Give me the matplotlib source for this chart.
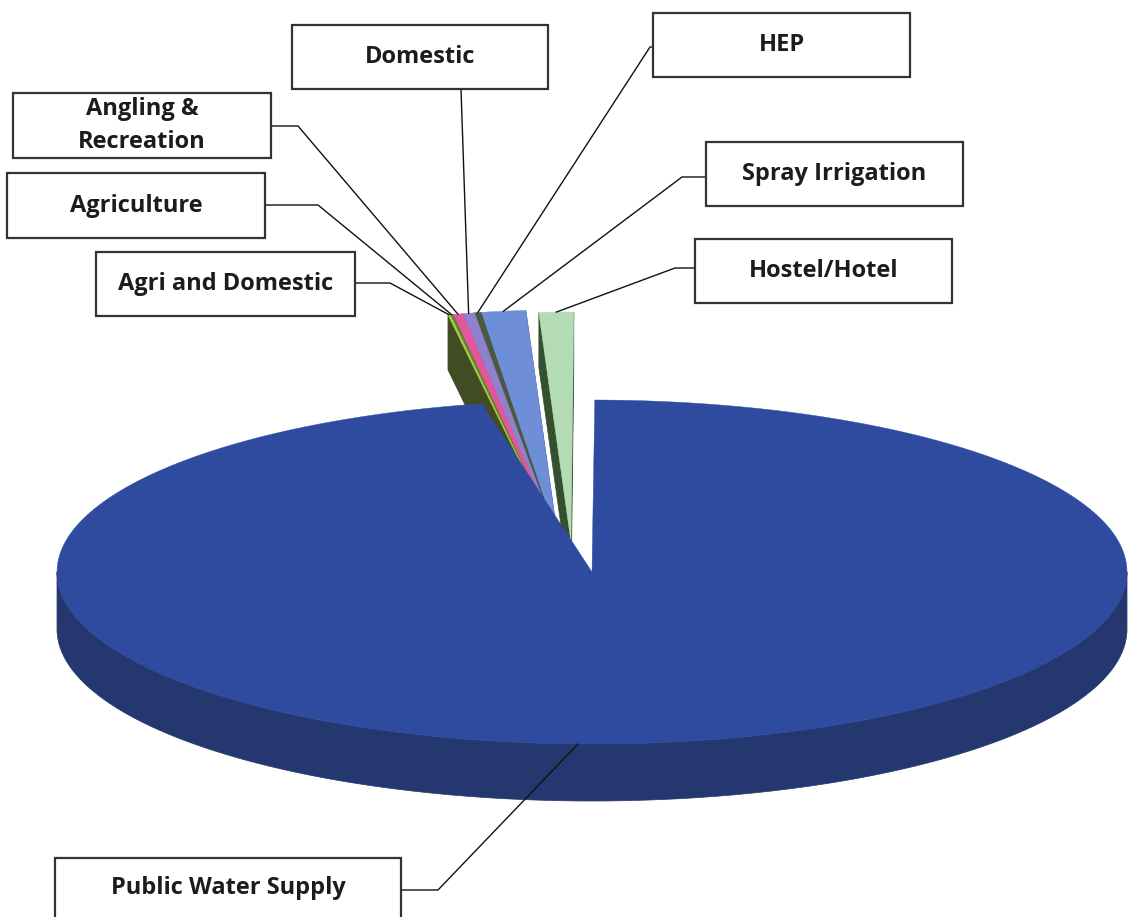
import numpy as np
import matplotlib
matplotlib.use("Agg")
import matplotlib.pyplot as plt
from matplotlib.patches import Polygon, Rectangle

# ---------------- data ----------------
categories = ["Hostel/Hotel", "Spray Irrigation", "HEP", "Domestic",
              "Angling &\nRecreation", "Agriculture", "Agri and Domestic",
              "Public Water Supply"]
values = [1.04, 1.34, 0.20, 0.35, 0.30, 0.08, 0.07, 96.62]

top_colors = ["#B3DCB5", "#6E8FD7", "#4B5A3E", "#8F82CC", "#E2579B",
              "#5F8030", "#A9CF40", "#2F4B9F"]
wall_colors = ["#34502F", "#3E5388", "#34402A", "#4F4B78", "#7A3657",
               "#3D4F22", "#414C24", "#25376F"]

# ---------------- layout ----------------
W, H = 1128, 917
cx, cy = 592, 572          # pie centre (pixels)
rx, ry = 535, 172          # ellipse radii
depth = 57                 # pie thickness
start_angle = 89.7
explode_center = [(571, 542), (558, 540), (558, 540), (558, 540),
                  (558, 540), (558, 540), (558, 540), (cx, cy)]
explode_ry = [230, 230, 230, 230, 230, 230, 230, ry]
explode_depth = 55

boxes = {
    "Hostel/Hotel": (695, 239, 952, 303),
    "Spray Irrigation": (706, 142, 963, 206),
    "HEP": (653, 13, 910, 77),
    "Domestic": (292, 25, 548, 89),
    "Angling &\nRecreation": (13, 93, 271, 158),
    "Agriculture": (7, 173, 265, 238),
    "Agri and Domestic": (96, 252, 355, 316),
    "Public Water Supply": (55, 858, 401, 922),
}
leaders = {
    "Hostel/Hotel": [(695, 268), (675, 268)],
    "Spray Irrigation": [(706, 177), (682, 177)],
    "HEP": [(653, 47), (650, 47)],
    "Domestic": [(461, 89)],
    "Angling &\nRecreation": [(271, 126), (298, 126)],
    "Agriculture": [(265, 205), (318, 205)],
    "Agri and Domestic": [(355, 283), (390, 283)],
    "Public Water Supply": [(401, 890), (438, 890)],
}
pws_anchor_angle = 268.5

plt.rcParams["font.family"] = ["Open Sans", "DejaVu Sans"]

fig = plt.figure(figsize=(W / 100, H / 100), dpi=100)
ax = fig.add_axes([0, 0, 1, 1])
ax.set_xlim(0, W)
ax.set_ylim(H, 0)
ax.axis("off")


def rim(c, r_x, r_y, ang):
    t = np.radians(ang)
    return np.array([c[0] + r_x * np.cos(t), c[1] - r_y * np.sin(t)])


def arc(c, r_x, r_y, a0, a1, n=300):
    t = np.radians(np.linspace(a0, a1, n))
    return np.column_stack([c[0] + r_x * np.cos(t), c[1] - r_y * np.sin(t)])


tot = sum(values)
spans = [v / tot * 360 for v in values]
edges = [start_angle]
for s in spans:
    edges.append(edges[-1] + s)

# ----- exploded slices (behind) -----
groups = [[0], [1, 2, 3, 4, 5, 6]]
for g in groups:
    for i in g:
        c = explode_center[i]
        r_y = explode_ry[i]
        for a in (edges[i], edges[i + 1]):
            p = rim(c, rx, r_y, a)
            quad = [c, p, (p[0], p[1] + explode_depth),
                    (c[0], c[1] + explode_depth)]
            ax.add_patch(Polygon(quad, closed=True, fc=wall_colors[i],
                                 ec=wall_colors[i], lw=0.5, zorder=2))
    for i in g:
        c = explode_center[i]
        r_y = explode_ry[i]
        pts = np.vstack([[c], arc(c, rx, r_y, edges[i], edges[i + 1], 40)])
        ax.add_patch(Polygon(pts, closed=True, fc=top_colors[i],
                             ec=top_colors[i], lw=0.3, zorder=3))

# ----- main slice -----
i = 7
a0, a1 = edges[i], edges[i + 1]
top_arc = arc((cx, cy), rx, ry, 180, 360)
bot_arc = top_arc.copy()
bot_arc[:, 1] += depth
side = np.vstack([top_arc, bot_arc[::-1]])
ax.add_patch(Polygon(side, closed=True, fc=wall_colors[i], ec=wall_colors[i],
                     lw=0.5, zorder=4))
pts = np.vstack([[(cx, cy)], arc((cx, cy), rx, ry, a0, a1, 600)])
ax.add_patch(Polygon(pts, closed=True, fc=top_colors[i], ec=top_colors[i],
                     lw=0.3, zorder=5))

# ----- labels and leaders -----
for i, name in enumerate(categories):
    x0, y0, x1, y1 = boxes[name]
    ax.add_patch(Rectangle((x0, y0), x1 - x0, y1 - y0, fc="white",
                           ec="#333333", lw=1.6, zorder=7))
    ax.text((x0 + x1) / 2, (y0 + y1) / 2 if i < 7 else 888, name,
            ha="center", va="center", fontsize=17, fontweight="bold",
            color="#1c1c1c", linespacing=1.45, zorder=8)
    if i < 7:
        mid = (edges[i] + edges[i + 1]) / 2
        anchor = rim(explode_center[i], rx, explode_ry[i], mid)
    else:
        anchor = rim((cx, cy), rx, ry, pws_anchor_angle)
    path = np.array(leaders[name] + [tuple(anchor)])
    ax.plot(path[:, 0], path[:, 1], color="#111111", lw=1.0, zorder=6)

fig.savefig("out.png", dpi=100, facecolor="white")
